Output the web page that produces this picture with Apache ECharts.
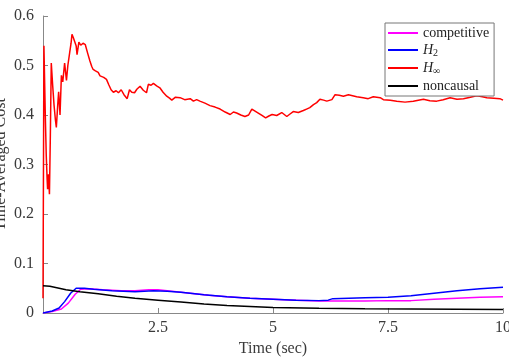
<!DOCTYPE html>
<html>
<head>
<meta charset="utf-8">
<script src="https://cdn.jsdelivr.net/npm/echarts@6/dist/echarts.min.js"></script>
<style>
  html, body { margin: 0; padding: 0; background: #fff; }
  #chart { width: 509px; height: 358px; }
</style>
</head>
<body>
<div id="chart"></div>
<script>
// time-averaged cost
const xTicks = [0, 2.5, 5, 7.5, 10]
const yTicks = [0, 0.1, 0.2, 0.3, 0.4, 0.5, 0.6]

const compT = [0, 0.2, 0.4, 0.55, 0.7, 0.82, 1.0, 1.3, 1.7, 2.0, 2.3, 2.5, 2.8, 3.2, 3.6, 4.0, 4.5, 5.0, 5.5, 6.0, 6.5, 7.0, 7.5, 8.0, 8.5, 9.0, 9.5, 10]
const compV = [0, 0.003, 0.008, 0.02, 0.038, 0.048, 0.049, 0.047, 0.045, 0.045, 0.047, 0.047, 0.044, 0.04, 0.036, 0.033, 0.030, 0.028, 0.026, 0.024, 0.024, 0.024, 0.025, 0.025, 0.028, 0.030, 0.032, 0.033]

const h2T = [0, 0.2, 0.35, 0.47, 0.6, 0.72, 0.9, 1.1, 1.5, 2.0, 2.4, 2.7, 3.0, 3.5, 4.0, 4.5, 5.0, 5.5, 6.0, 6.2, 6.3, 7.0, 7.5, 8.0, 8.5, 9.0, 9.5, 10]
const h2V = [0, 0.004, 0.01, 0.023, 0.04, 0.05, 0.05, 0.048, 0.045, 0.043, 0.045, 0.044, 0.042, 0.037, 0.033, 0.030, 0.028, 0.026, 0.025, 0.026, 0.029, 0.031, 0.032, 0.035, 0.04, 0.045, 0.049, 0.052]

const hinfT = [0, 0.02, 0.05, 0.07, 0.09, 0.10, 0.12, 0.14, 0.16, 0.18, 0.21, 0.24, 0.27, 0.29, 0.32, 0.34, 0.37, 0.40, 0.43, 0.47, 0.51, 0.54, 0.58, 0.61, 0.63, 0.66, 0.69, 0.72, 0.74, 0.78, 0.82, 0.87, 0.92, 0.97,
  1.02, 1.06, 1.09, 1.14, 1.20, 1.24, 1.27, 1.32, 1.38, 1.43, 1.48, 1.53, 1.59, 1.64, 1.70, 1.76, 1.83, 1.88, 1.93, 1.99,
  2.04, 2.07, 2.11, 2.18, 2.25, 2.29, 2.35, 2.40, 2.47, 2.54, 2.61, 2.69, 2.75, 2.80, 2.88, 2.98,
  3.08, 3.20, 3.27, 3.34, 3.41, 3.52, 3.63, 3.74, 3.85, 3.96, 4.07, 4.14, 4.21, 4.30, 4.39, 4.47, 4.54, 4.61, 4.68, 4.76, 4.84, 4.91, 4.98,
  5.08, 5.19, 5.30, 5.37, 5.44, 5.55, 5.66, 5.73, 5.80, 5.88, 5.95, 6.02, 6.10, 6.17, 6.28, 6.35, 6.44, 6.53, 6.64, 6.73, 6.82, 6.96,
  7.07, 7.18, 7.33, 7.40, 7.55, 7.69, 7.87, 8.05, 8.16, 8.27, 8.41, 8.56, 8.70, 8.85, 9.00, 9.14, 9.29, 9.43, 9.55, 9.65, 9.80, 9.93, 10]
const hinfV = [0.03, 0.54, 0.40, 0.32, 0.27, 0.25, 0.28, 0.24, 0.36, 0.505, 0.46, 0.42, 0.39, 0.375, 0.42, 0.447, 0.40, 0.48, 0.467, 0.505, 0.47, 0.50, 0.526, 0.545, 0.563, 0.556, 0.553, 0.540, 0.522, 0.547, 0.541, 0.545, 0.542, 0.525,
  0.509, 0.498, 0.492, 0.489, 0.486, 0.479, 0.482, 0.476, 0.472, 0.461, 0.451, 0.446, 0.449, 0.445, 0.451, 0.441, 0.433, 0.451, 0.446, 0.445,
  0.452, 0.455, 0.458, 0.450, 0.445, 0.462, 0.460, 0.464, 0.459, 0.455, 0.446, 0.438, 0.434, 0.430, 0.436, 0.435,
  0.431, 0.433, 0.428, 0.431, 0.428, 0.424, 0.419, 0.416, 0.412, 0.406, 0.401, 0.406, 0.404, 0.400, 0.397, 0.400, 0.412, 0.408, 0.404, 0.399, 0.394, 0.398, 0.401,
  0.399, 0.405, 0.397, 0.402, 0.407, 0.405, 0.409, 0.412, 0.415, 0.421, 0.425, 0.432, 0.430, 0.428, 0.431, 0.441, 0.440, 0.438, 0.441, 0.439, 0.437, 0.435,
  0.433, 0.437, 0.435, 0.431, 0.430, 0.428, 0.426, 0.428, 0.430, 0.432, 0.429, 0.428, 0.431, 0.435, 0.432, 0.433, 0.436, 0.439, 0.437, 0.435, 0.434, 0.433, 0.430]

const noncT = [0, 0.15, 0.3, 0.5, 0.8, 1.2, 1.6, 2.0, 2.5, 3.0, 3.5, 4.0, 4.5, 5.0, 6.0, 7.0, 8.0, 9.0, 10]
const noncV = [0.055, 0.054, 0.051, 0.047, 0.043, 0.039, 0.034, 0.030, 0.026, 0.022, 0.018, 0.015, 0.013, 0.011, 0.0095, 0.0085, 0.008, 0.0075, 0.007]

function zip (t, v) {
  return t.map(function (x, i) { return [x, v[i]] })
}

const serif = 'Liberation Serif'
const textColor = '#3a3a3a'
const axisColor = '#888'

let myChart = echarts.init(document.getElementById('chart'))
let option = {
  animation: false,
  grid: { left: 43, right: 6, top: 16, bottom: 45, outerBoundsMode: 'none', containLabel: false },
  legend: {
    left: 385,
    top: 23,
    orient: 'vertical',
    icon: 'rect',
    itemWidth: 30,
    itemHeight: 2,
    itemGap: 3,
    padding: [3, 5, 3, 3],
    borderColor: '#777',
    borderWidth: 1,
    backgroundColor: '#fff',
    textStyle: {
      fontFamily: serif,
      fontSize: 14,
      lineHeight: 14,
      color: '#222',
      rich: {
        i: { fontFamily: serif, fontStyle: 'italic', fontSize: 14, color: '#222' },
        s: { fontFamily: serif, fontSize: 10, color: '#222', padding: [6, 0, 0, 0] }
      }
    },
    formatter: function (name) {
      if (name === 'H2') return '{i|H}{s|2}'
      if (name === 'Hinf') return '{i|H}{s|∞}'
      return name
    },
    data: ['competitive', 'H2', 'Hinf', 'noncausal']
  },
  xAxis: {
    type: 'value',
    min: xTicks[0],
    max: xTicks[xTicks.length - 1],
    interval: 2.5,
    name: 'Time (sec)',
    nameLocation: 'middle',
    nameGap: 28,
    nameMoveOverlap: false,
    nameTextStyle: { fontFamily: serif, fontSize: 16, color: textColor },
    axisLine: { show: true, lineStyle: { color: axisColor, width: 1 } },
    axisTick: { show: true, inside: true, length: 5, lineStyle: { color: axisColor } },
    axisLabel: {
      fontFamily: serif, fontSize: 16, color: textColor, margin: 7,
      formatter: function (v) { return v === 0 ? '' : String(v) }
    },
    splitLine: { show: false }
  },
  yAxis: {
    type: 'value',
    min: yTicks[0],
    max: yTicks[yTicks.length - 1],
    interval: 0.1,
    name: 'Time-Averaged Cost',
    nameLocation: 'middle',
    nameGap: 34,
    nameMoveOverlap: false,
    nameTextStyle: { fontFamily: serif, fontSize: 16, color: textColor },
    axisLine: { show: true, lineStyle: { color: axisColor, width: 1 } },
    axisTick: { show: true, inside: true, length: 5, lineStyle: { color: axisColor } },
    axisLabel: { fontFamily: serif, fontSize: 16, color: textColor, margin: 9 },
    splitLine: { show: false }
  },
  series: [
    {
      name: 'competitive', type: 'line', symbol: 'none', z: 3,
      lineStyle: { color: '#ff00ff', width: 1.5 }, itemStyle: { color: '#ff00ff' },
      data: zip(compT, compV)
    },
    {
      name: 'H2', type: 'line', symbol: 'none', z: 4,
      lineStyle: { color: '#0000ff', width: 1.5 }, itemStyle: { color: '#0000ff' },
      data: zip(h2T, h2V)
    },
    {
      name: 'Hinf', type: 'line', symbol: 'none', z: 2,
      lineStyle: { color: '#ff0000', width: 1.5 }, itemStyle: { color: '#ff0000' },
      data: zip(hinfT, hinfV)
    },
    {
      name: 'noncausal', type: 'line', symbol: 'none', z: 5,
      lineStyle: { color: '#000000', width: 1.5 }, itemStyle: { color: '#000000' },
      data: zip(noncT, noncV)
    }
  ]
}
myChart.setOption(option)
</script>
</body>
</html>
